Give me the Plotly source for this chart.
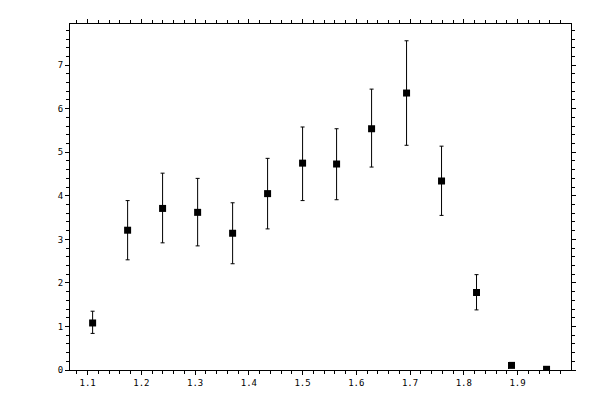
import plotly.graph_objects as go

x_vals = [1.1093, 1.1744, 1.2395, 1.3047, 1.3698, 1.4349, 1.5000,
          1.5633, 1.6284, 1.6935, 1.7586, 1.8237, 1.8888, 1.9540]
y_vals = [1.08, 3.21, 3.71, 3.62, 3.14, 4.05, 4.75,
          4.73, 5.54, 6.36, 4.34, 1.78, 0.106, 0.016]
err_up = [0.27, 0.68, 0.81, 0.78, 0.70, 0.81, 0.83,
          0.81, 0.91, 1.20, 0.80, 0.41, 0.0, 0.0]
err_down = [0.24, 0.68, 0.79, 0.77, 0.70, 0.81, 0.86,
            0.82, 0.88, 1.20, 0.79, 0.40, 0.0, 0.0]

x_range = [1.0672, 1.9995]
y_range = [0, 7.945]

fig = go.Figure()

fig.add_trace(go.Scatter(
    x=x_vals, y=y_vals,
    mode='markers',
    marker=dict(symbol='square', size=7, color='black'),
    error_y=dict(type='data', symmetric=False, array=err_up, arrayminus=err_down,
                 color='black', thickness=1, width=2),
    showlegend=False,
))

font = dict(family='DejaVu Sans Mono', size=9, color='black')

# main axes: outward major + minor ticks, mirrored on the opposite side
common = dict(showline=True, linecolor='black', linewidth=1, showgrid=False, zeroline=False,
              ticks='outside', ticklen=4, tickcolor='black', tickwidth=1,
              mirror='allticks', tickfont=font)

# the page body has an 8px margin, so the figure is a bit smaller than the window
fig.update_layout(
    width=592, height=392,
    margin=dict(l=62, r=29, t=11, b=30),
    paper_bgcolor='white', plot_bgcolor='white',
    xaxis=dict(range=x_range, tick0=1.1, dtick=0.1, tickformat='.1f',
               minor=dict(dtick=0.02, tick0=1.1, ticks='outside', ticklen=3,
                          tickcolor='black', showgrid=False),
               **common),
    yaxis=dict(range=y_range, tick0=0, dtick=1,
               minor=dict(dtick=0.2, tick0=0, ticks='outside', ticklen=3,
                          tickcolor='black', showgrid=False),
               **common),
    # overlay axes that draw the inward half of the major ticks
    xaxis2=dict(overlaying='x', range=x_range, tick0=1.1, dtick=0.1, ticks='inside',
                ticklen=4, tickcolor='black', showticklabels=False, showline=False,
                showgrid=False, zeroline=False, mirror='allticks'),
    yaxis2=dict(overlaying='y', range=y_range, tick0=0, dtick=1, ticks='inside',
                ticklen=4, tickcolor='black', showticklabels=False, showline=False,
                showgrid=False, zeroline=False, mirror='allticks'),
)

fig.write_html("out.html")
